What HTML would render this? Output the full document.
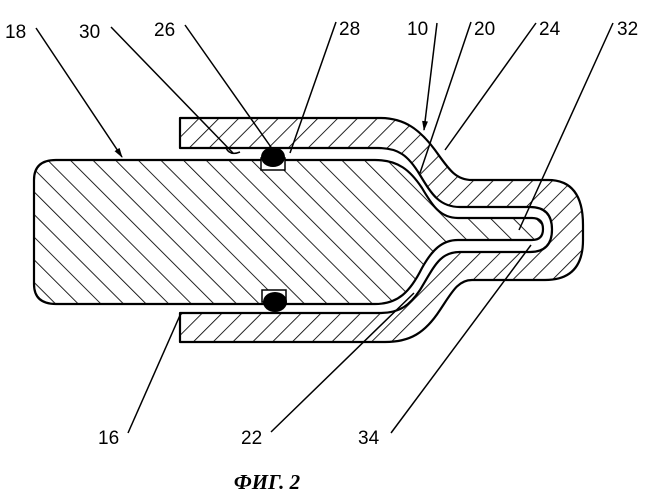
<!DOCTYPE html>
<html><head><meta charset="utf-8"><style>
html,body{margin:0;padding:0;background:#fff}
svg{display:block}
text{font-family:"Liberation Sans",sans-serif;font-size:19px;fill:#000}
</style></head><body>
<svg width="655" height="500" viewBox="0 0 655 500">
<defs>
<pattern id="hp" patternUnits="userSpaceOnUse" width="16" height="16" patternTransform="rotate(-45)">
<line x1="0" y1="0" x2="0" y2="16" stroke="#000" stroke-width="1.7"/></pattern>
<pattern id="hs" patternUnits="userSpaceOnUse" width="14" height="14" patternTransform="rotate(45)">
<line x1="0" y1="0" x2="0" y2="14" stroke="#000" stroke-width="1.7"/></pattern>
<marker id="ar" markerWidth="10" markerHeight="8" refX="9" refY="4" orient="auto" markerUnits="userSpaceOnUse">
<path d="M0,1 L10,4 L0,7 Z" fill="#000"/></marker>
</defs>
<g stroke="#000" stroke-width="2.2" stroke-linejoin="round">
<path fill="url(#hs)" d="M180,118 L380,118 C405,118 420,130 435,150 C448,168 455,180 472,180 L548,180 Q583,180 583,225 L583,240 Q583,280 545,280 L472,280 C458,280 452,292 440,310 C425,333 410,342 385,342 L180,342 L180,313 L380,313 C400,313 410,305 420,290 C435,265 440,252 460,252 L530,252 Q552,252 552,229.5 Q552,207 530,207 L460,207 C440,207 432,195 420,175 C408,155 398,148 378,148 L180,148 Z"/>
<path fill="url(#hp)" d="M56,160 L375,160 C398,160 410,170 422,188 C432,205 440,218 458,218 L532,218 Q543,218 543,229 Q543,240 532,240 L458,240 C442,240 432,250 422,268 C410,292 398,304 375,304 L56,304 Q34,304 34,284 L34,180 Q34,160 56,160 Z"/>
</g>
<g stroke="#000" stroke-width="1.5" fill="#fff">
<rect x="261" y="158" width="24" height="12"/>
<rect x="262" y="290" width="24" height="12"/>
</g>
<ellipse cx="273" cy="157" rx="12" ry="10" fill="#000"/>
<ellipse cx="275" cy="302" rx="12" ry="10" fill="#000"/>
<path d="M226,148 Q230,156 240,152" fill="none" stroke="#000" stroke-width="1.5"/>
<g stroke="#000" stroke-width="1.5" fill="none">
<line x1="36" y1="28" x2="122" y2="157" marker-end="url(#ar)"/>
<line x1="111" y1="27" x2="233" y2="153"/>
<line x1="185" y1="25" x2="273" y2="150"/>
<line x1="336" y1="22" x2="290" y2="153"/>
<line x1="437" y1="23" x2="424" y2="130" marker-end="url(#ar)"/>
<line x1="471" y1="22" x2="420" y2="173"/>
<line x1="536" y1="23" x2="445" y2="150"/>
<line x1="613" y1="23" x2="519" y2="230"/>
<line x1="128" y1="433" x2="181" y2="313"/>
<line x1="271" y1="432" x2="414" y2="293"/>
<line x1="391" y1="433" x2="531" y2="245"/>
</g>
<text x="5" y="38">18</text>
<text x="79" y="38">30</text>
<text x="154" y="36">26</text>
<text x="339" y="35">28</text>
<text x="407" y="35">10</text>
<text x="474" y="35">20</text>
<text x="539" y="35">24</text>
<text x="617" y="35">32</text>
<text x="98" y="444">16</text>
<text x="241" y="444">22</text>
<text x="358" y="444">34</text>
<text x="267" y="489" text-anchor="middle" style="font-family:'Liberation Serif',serif;font-weight:bold;font-style:italic;font-size:21px">ФИГ. 2</text>
</svg>
</body></html>
